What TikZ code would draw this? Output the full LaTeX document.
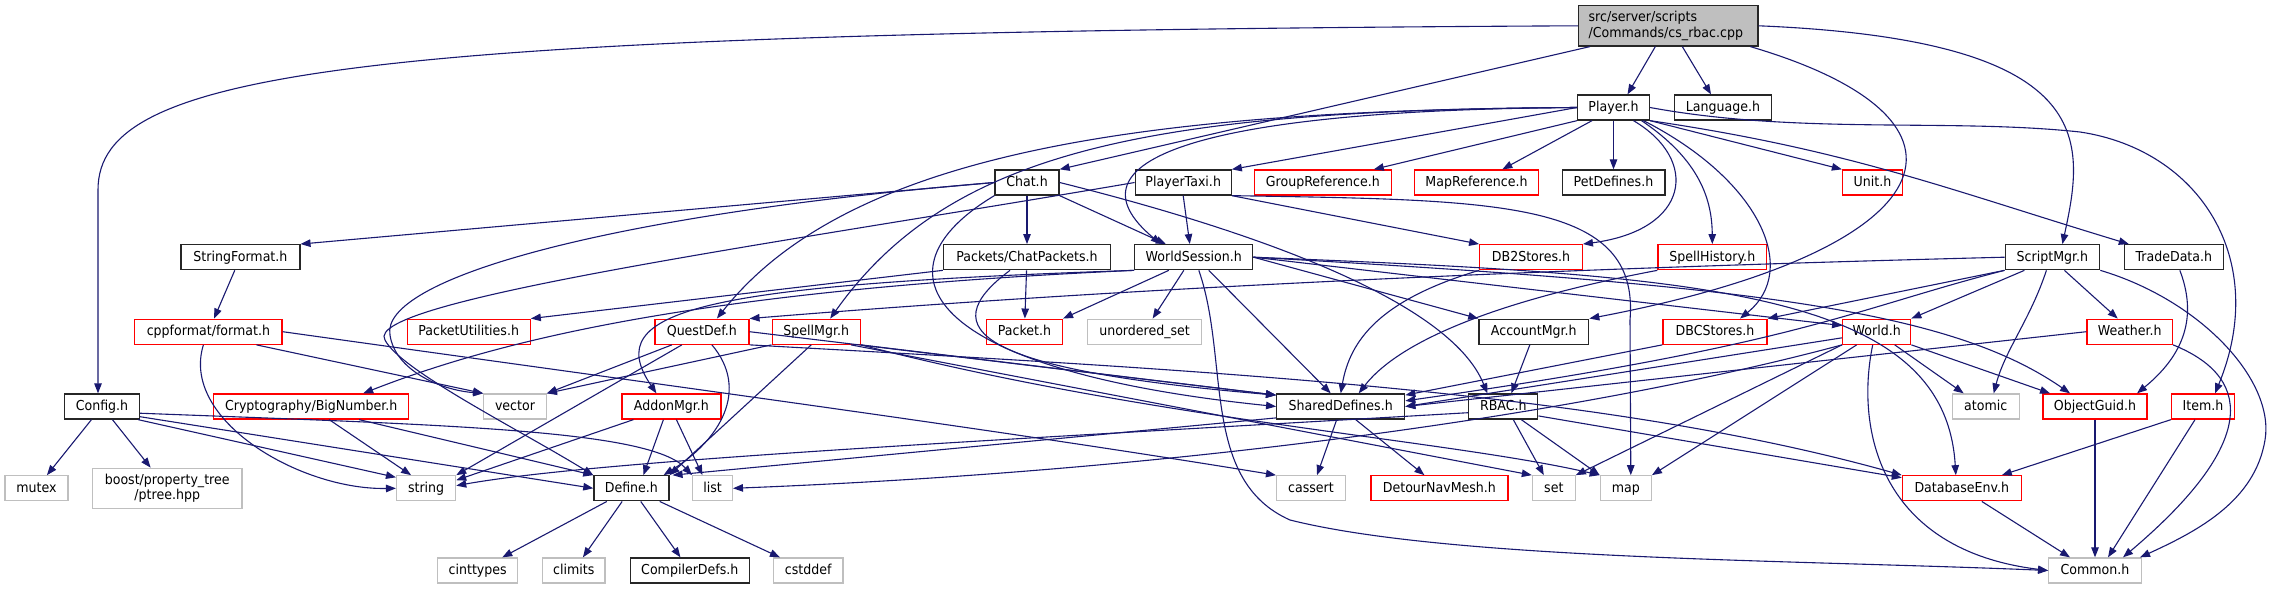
\documentclass[tikz,border=0pt]{standalone}
\usepackage{fontspec}
\setmainfont{DejaVu Sans}[FakeStretch=0.92]
\usetikzlibrary{arrows.meta}
\definecolor{edgeblue}{RGB}{25,25,112}
\definecolor{nodered}{RGB}{255,0,0}
\definecolor{grey75}{RGB}{191,191,191}
\tikzset{
 nd/.style={draw, rectangle, inner sep=0pt, minimum height=25pt, line width=1.3pt},
 one/.style={text height=10.5pt, text depth=2.8pt},
 blk/.style={nd, draw=black!85},
 blkn/.style={blk, one},
 redn/.style={nd, one, draw=nodered},
 gryn/.style={nd, one, draw=grey75},
 edgeln/.style={draw=edgeblue, line width=1.1pt, -{Triangle[length=10pt,width=7.5pt]}},
}
\begin{document}
\begin{tikzpicture}[x=1pt,y=-1pt,font=\fontsize{13.7}{15.3}\selectfont]
\useasboundingbox (0,0) rectangle (2277,589);
% row 0-1
\node[blk, fill=grey75, minimum height=40.3pt, align=left, text width=159.4pt, inner xsep=10pt] (root) at (1668.3,25.8) {src/server/scripts\\/Commands/cs\_rbac.cpp};
\node[blkn, minimum width=71.7pt] (player) at (1613.5,107.5) {Player.h};
\node[blkn, minimum width=97pt] (lang) at (1723,107.5) {Language.h};
% row 2
\node[blkn, minimum width=64pt] (chat) at (1027,182.5) {Chat.h};
\node[blkn, minimum width=96pt] (ptaxi) at (1183.2,182.5) {PlayerTaxi.h};
\node[redn, minimum width=136.7pt] (gref) at (1322.8,182.5) {GroupReference.h};
\node[redn, minimum width=124.4pt] (mref) at (1476.5,182.5) {MapReference.h};
\node[blkn, minimum width=102.7pt] (petdef) at (1613.5,182.5) {PetDefines.h};
\node[redn, minimum width=60pt] (unit) at (1872.5,182.5) {Unit.h};
% row 3
\node[blkn, minimum width=119pt] (strfmt) at (240.4,257.2) {StringFormat.h};
\node[blkn, minimum width=167pt] (chatpk) at (1027,257.2) {Packets/ChatPackets.h};
\node[blkn, minimum width=118pt] (wsess) at (1193.8,257.2) {WorldSession.h};
\node[redn, minimum width=102.6pt] (db2) at (1531,257.2) {DB2Stores.h};
\node[redn, minimum width=108.6pt] (spellhist) at (1712.3,257.2) {SpellHistory.h};
\node[blkn, minimum width=94.5pt] (scriptmgr) at (2052.4,257.2) {ScriptMgr.h};
\node[blkn, minimum width=98.9pt] (trade) at (2173.8,257.2) {TradeData.h};
% row 4
\node[redn, minimum width=147.3pt] (fmt) at (208.4,331.7) {cppformat/format.h};
\node[redn, minimum width=123pt] (pktutil) at (468.7,331.7) {PacketUtilities.h};
\node[redn, minimum width=94pt] (quest) at (701.9,331.7) {QuestDef.h};
\node[redn, minimum width=88pt] (spellmgr) at (816.2,331.7) {SpellMgr.h};
\node[redn, minimum width=76pt] (packet) at (1024.4,331.7) {Packet.h};
\node[gryn, minimum width=114pt] (uset) at (1144.6,331.7) {unordered\_set};
\node[blkn, minimum width=109.8pt] (acct) at (1533.8,331.7) {AccountMgr.h};
\node[redn, minimum width=104pt] (dbc) at (1715,331.7) {DBCStores.h};
\node[redn, minimum width=68pt] (world) at (1876.7,331.7) {World.h};
\node[redn, minimum width=85.3pt] (weather) at (2129.7,331.7) {Weather.h};
% row 5
\node[blkn, minimum width=75pt] (config) at (102,406.5) {Config.h};
\node[redn, minimum width=194.9pt] (bignum) at (311.2,406.5) {Cryptography/BigNumber.h};
\node[gryn, minimum width=62.5pt] (nvector) at (515,406.5) {vector};
\node[redn, minimum width=98.9pt] (addon) at (671.4,406.5) {AddonMgr.h};
\node[blkn, minimum width=128pt] (shared) at (1340.7,406.5) {SharedDefines.h};
\node[blkn, minimum width=69pt] (rbac) at (1503.3,406.5) {RBAC.h};
\node[gryn, minimum width=67pt] (atomic) at (1985.7,406.5) {atomic};
\node[redn, minimum width=104pt] (oguid) at (2095,406.5) {ObjectGuid.h};
\node[redn, minimum width=63pt] (item) at (2203,406.5) {Item.h};
% row 6
\node[gryn, minimum width=63pt] (mutex) at (36.4,488.3) {mutex};
\node[nd, draw=grey75, minimum width=149.3pt, minimum height=40.4pt, align=center] (boost) at (167.2,488.5) {boost/property\_tree\\/ptree.hpp};
\node[gryn, minimum width=59pt] (nstring) at (426.1,488.3) {string};
\node[blkn, minimum width=75pt] (define) at (631.4,488.3) {Define.h};
\node[gryn, minimum width=39.7pt] (nlist) at (712.5,488.3) {list};
\node[gryn, minimum width=68.8pt] (cassert) at (1311,488.3) {cassert};
\node[redn, minimum width=137pt] (detour) at (1439.4,488.3) {DetourNavMesh.h};
\node[gryn, minimum width=42.7pt] (nset) at (1553.8,488.3) {set};
\node[gryn, minimum width=51pt] (nmap) at (1625.8,488.3) {map};
\node[redn, minimum width=118.8pt] (dbenv) at (1961.8,488.3) {DatabaseEnv.h};
% row 7
\node[gryn, minimum width=80pt] (cinttypes) at (477.7,570.5) {cinttypes};
\node[gryn, minimum width=62.5pt] (climits) at (573.7,570.5) {climits};
\node[blkn, minimum width=119.2pt] (compdefs) at (689.8,570.5) {CompilerDefs.h};
\node[gryn, minimum width=69.3pt] (cstddef) at (808.2,570.5) {cstddef};
\node[gryn, minimum width=92.6pt] (common) at (2095,570.5) {Common.h};

% ===== edges =====
% root
\draw[edgeln] (root.west) .. controls (350,32) and (98,70) .. (98,190) -- ([xshift=-4]config.north);
\draw[edgeln] ([xshift=12]root.south west) -- (chat.north east);
\draw[edgeln] ([xshift=-13]root.south) -- ([xshift=14]player.north);
\draw[edgeln] ([xshift=14]root.south) -- ([xshift=-12]lang.north);
\draw[edgeln] ([xshift=82]root.south) .. controls (2000,120) and (1950,250) .. (acct.north east);
\draw[edgeln] (root.east) .. controls (2100,40) and (2085,140) .. ([xshift=10]scriptmgr.north);
% player
\draw[edgeln] (player.west) -- (ptaxi.north east);
\draw[edgeln] (player.south west) -- ([xshift=-18]gref.north east);
\draw[edgeln] ([xshift=-21.5]player.south) -- ([xshift=-37]mref.north east);
\draw[edgeln] (player) -- (petdef);
\draw[edgeln] (player.south east) -- (unit.north west);
\draw[edgeln] ([xshift=20]player.south) .. controls (1700,160) and (1690,230) .. (db2.north east);
\draw[edgeln] ([xshift=28]player.south) .. controls (1700,160) and (1712,200) .. (spellhist.north);
\draw[edgeln] ([xshift=30]player.south) .. controls (1760,180) and (1800,270) .. ([xshift=25]dbc.north);
\draw[edgeln] (player.south east) .. controls (1850,150) and (1950,190) .. ([xshift=-45]trade.north);
\draw[edgeln] (player.east) .. controls (1800,135) and (1950,118) .. (2080,132) .. controls (2200,150) and (2270,260) .. ([xshift=12]item.north);
\draw[edgeln] (player.west) .. controls (1200,110) and (1060,160) .. ([xshift=-33]wsess.north);
\draw[edgeln] (player.west) .. controls (1150,110) and (850,150) .. ([xshift=15]quest.north);
\draw[edgeln] (player.west) .. controls (1150,110) and (950,150) .. ([xshift=14]spellmgr.north);
% chat
\draw[edgeln] (chat.west) -- (strfmt.north east);
\draw[edgeln] (chat.west) .. controls (600,215) and (380,280) .. (390,335) .. controls (395,370) and (440,390) .. (nvector.north west);
\draw[edgeln] (chat) -- (chatpk);
\draw[edgeln] (chat.south east) -- ([xshift=-28]wsess.north);
\draw[edgeln] (chat.south west) .. controls (870,270) and (920,370) .. (shared.west);
\draw[edgeln] (chat.east) .. controls (1250,230) and (1450,300) .. ([xshift=-16]rbac.north);
% player taxi
\draw[edgeln] (ptaxi.south) -- ([xshift=-4]wsess.north);
\draw[edgeln] (ptaxi.south east) -- (db2.north west);
\draw[edgeln] (ptaxi.south east) .. controls (1500,200) and (1640,200) .. (1630,320) -- ([xshift=5]nmap.north);
\draw[edgeln] (ptaxi.west) .. controls (800,240) and (360,300) .. (385,340) .. controls (400,370) and (520,430) .. (define.north west);
% world session
\draw[edgeln] (wsess.south west) .. controls (700,290) and (500,340) .. ([xshift=52]bignum.north);
\draw[edgeln] (wsess.south west) .. controls (700,285) and (600,310) .. ([xshift=-15]addon.north);
\draw[edgeln] ([xshift=-25]wsess.south) -- (packet.north east);
\draw[edgeln] ([xshift=-10]wsess.south) -- ([xshift=8]uset.north);
\draw[edgeln] ([xshift=5]wsess.south) .. controls (1230,360) and (1200,480) .. (1290,520) .. controls (1450,560) and (1800,560) .. (common.west);
\draw[edgeln] ([xshift=15]wsess.south) -- ([xshift=-10]shared.north);
\draw[edgeln] (wsess.east) -- (acct.north west);
\draw[edgeln] (wsess.east) -- (world.170);
\draw[edgeln] (wsess.east) .. controls (1750,285) and (1950,310) .. ([xshift=-25]oguid.north);
\draw[edgeln] (wsess.east) .. controls (1700,275) and (1945,290) .. ([xshift=-6]dbenv.north);
% chat packets
\draw[edgeln] (chatpk.south west) -- (pktutil.north east);
\draw[edgeln] (chatpk) -- (packet);
\draw[edgeln] ([xshift=-17]chatpk.south) .. controls (930,330) and (980,370) .. (shared.170);
% string format
\draw[edgeln] (strfmt) -- (fmt);
% quest def
\draw[edgeln] ([xshift=-30]quest.south) -- (nvector.north east);
\draw[edgeln] ([xshift=-20]quest.south) -- (nstring.north east);
\draw[edgeln] ([xshift=10]quest.south) .. controls (750,390) and (720,440) .. ([xshift=-6]define.north east);
\draw[edgeln] (quest.east) -- (shared.170);
\draw[edgeln] (quest.south east) .. controls (1200,370) and (1600,390) .. (dbenv.north west);
% spell mgr
\draw[edgeln] (spellmgr.south west) -- (nvector.north east);
\draw[edgeln] ([xshift=-5]spellmgr.south) -- (define.north east);
\draw[edgeln] (spellmgr.south east) -- (shared.170);
\draw[edgeln] ([xshift=-10]spellmgr.south east) -- (nset.north west);
\draw[edgeln] (spellmgr.south east) .. controls (1150,420) and (1450,440) .. (nmap.north west);
% cppformat
\draw[edgeln] ([xshift=48]fmt.south) -- (nvector.north west);
\draw[edgeln] ([xshift=-5]fmt.south) .. controls (180,420) and (300,490) .. (nstring.west);
\draw[edgeln] (fmt.east) .. controls (700,390) and (1000,430) .. (cassert.north west);
% config
\draw[edgeln] (config) -- (mutex);
\draw[edgeln] (config) -- (boost);
\draw[edgeln] (config.-20) -- (nstring.160);
\draw[edgeln] (config.-15) -- (define.west);
\draw[edgeln] (config.-10) .. controls (450,425) and (650,430) .. (nlist.north west);
% big number
\draw[edgeln] ([xshift=18]bignum.south) -- ([xshift=-15]nstring.north);
\draw[edgeln] ([xshift=48]bignum.south) -- (define.north west);
% addon mgr
\draw[edgeln] ([xshift=-38]addon.south) -- (nstring.15);
\draw[edgeln] ([xshift=-8]addon.south) -- ([xshift=12]define.north);
\draw[edgeln] ([xshift=5]addon.south) -- ([xshift=-10]nlist.north);
% define
\draw[edgeln] (define) -- (cinttypes);
\draw[edgeln] (define) -- (climits);
\draw[edgeln] (define) -- (compdefs);
\draw[edgeln] (define) -- (cstddef);
% shared defines
\draw[edgeln] (shared.190) -- ([xshift=3]define.north east);
\draw[edgeln] ([xshift=-4]shared.south) -- ([xshift=6]cassert.north);
\draw[edgeln] ([xshift=15]shared.south) -- ([xshift=-15]detour.north);
% rbac
\draw[edgeln] (rbac.190) .. controls (1000,440) and (600,460) .. (nstring.5);
\draw[edgeln] ([xshift=10]rbac.south) -- ([xshift=-10]nset.north);
\draw[edgeln] ([xshift=18]rbac.south) -- (nmap.north west);
\draw[edgeln] (rbac.-15) -- (dbenv.170);
% account mgr
\draw[edgeln] ([xshift=-4]acct.south) -- ([xshift=8]rbac.north);
% db2, spell history, dbc
\draw[edgeln] (db2.south west) .. controls (1380,300) and (1350,340) .. (shared.north);
\draw[edgeln] (spellhist.south west) .. controls (1500,300) and (1400,340) .. ([xshift=18]shared.north);
\draw[edgeln] (dbc.south west) -- (shared.10);
% script mgr
\draw[edgeln] (scriptmgr.west) .. controls (1500,270) and (1100,290) .. (quest.north east);
\draw[edgeln] (scriptmgr.south west) .. controls (1850,310) and (1800,345) .. (shared.5);
\draw[edgeln] (scriptmgr.south west) -- (dbc.north east);
\draw[edgeln] ([xshift=-28]scriptmgr.south) -- (world.north east);
\draw[edgeln] ([xshift=12]scriptmgr.south) -- ([xshift=-12]weather.north);
\draw[edgeln] ([xshift=-6]scriptmgr.south) .. controls (2030,320) and (2005,350) .. ([xshift=8]atomic.north);
\draw[edgeln] (scriptmgr.south east) .. controls (2200,300) and (2275,380) .. (2265,440) .. controls (2255,500) and (2200,530) .. ([xshift=45]common.north);
% weather
\draw[edgeln] (weather.west) -- (shared.east);
\draw[edgeln] (weather.south east) .. controls (2260,380) and (2250,450) .. ([xshift=28]common.north);
% world
\draw[edgeln] (world.190) -- (shared.0);
\draw[edgeln] (world.south west) -- (nset.north east);
\draw[edgeln] ([xshift=-20]world.south) -- (nmap.north east);
\draw[edgeln] (world.south west) .. controls (1600,410) and (1200,470) .. (nlist.east);
\draw[edgeln] ([xshift=-4]world.south) .. controls (1855,430) and (1880,550) .. (common.west);
\draw[edgeln] ([xshift=18]world.south) -- ([xshift=-22]atomic.north);
\draw[edgeln] (world.south east) -- ([xshift=-45]oguid.north);
% object guid, item, trade, dbenv
\draw[edgeln] (oguid) -- (common);
\draw[edgeln] (item.south west) -- ([xshift=40]dbenv.north);
\draw[edgeln] ([xshift=-8]item.south) -- ([xshift=13]common.north);
\draw[edgeln] ([xshift=6]trade.south) .. controls (2195,310) and (2190,350) .. ([xshift=42]oguid.north);
\draw[edgeln] ([xshift=20]dbenv.south) -- ([xshift=-25]common.north);
\end{tikzpicture}
\end{document}
